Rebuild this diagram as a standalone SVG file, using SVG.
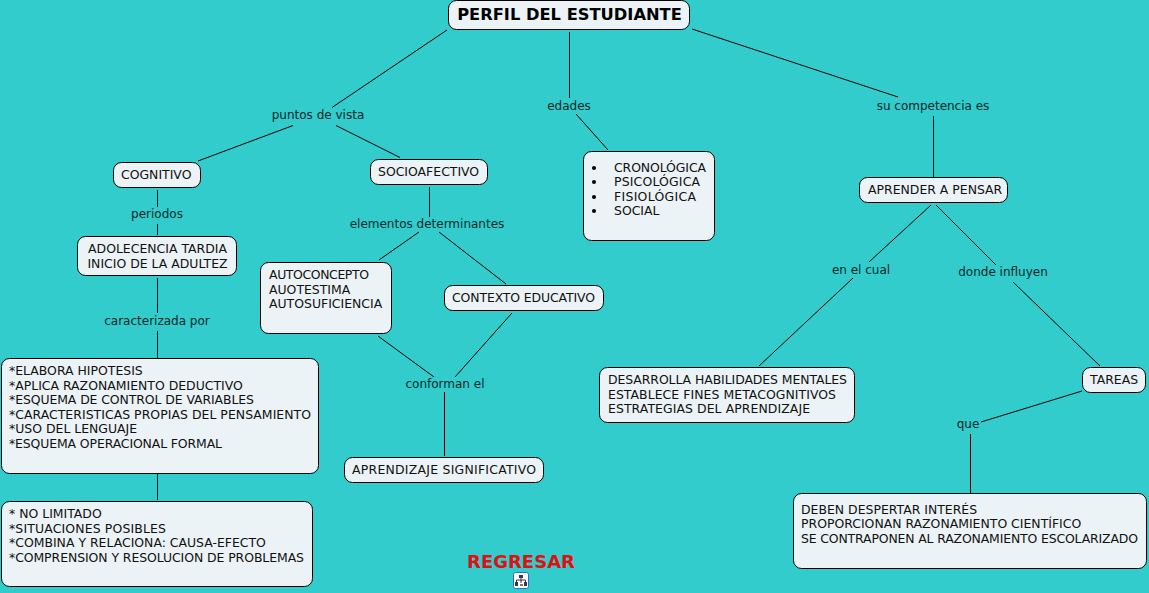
<svg xmlns="http://www.w3.org/2000/svg" width="1149" height="593" viewBox="0 0 1149 593">
<style>
.n{fill:#ecf3f6;stroke:#000;stroke-width:1}
text{font-family:"DejaVu Sans",Verdana,sans-serif;font-size:12.45px;fill:#111}
text.l{fill:#002a2a;text-anchor:middle;font-size:12px}
#conn line{stroke:#000;stroke-width:1}
</style>
<rect width="1149" height="593" fill="#33cccc"/>
<g id="conn">
<line x1="447" y1="30" x2="332" y2="107.500"/>
<line x1="293" y1="125.500" x2="198" y2="161"/>
<line x1="336" y1="125.500" x2="400" y2="157.500"/>
<line x1="569.500" y1="32" x2="569.500" y2="98"/>
<line x1="576" y1="114" x2="608" y2="150"/>
<line x1="692" y1="29" x2="898" y2="97"/>
<line x1="933.500" y1="116" x2="933.500" y2="177"/>
<line x1="157.500" y1="190" x2="157.500" y2="207"/>
<line x1="157.500" y1="224" x2="157.500" y2="235"/>
<line x1="157.500" y1="278" x2="157.500" y2="313"/>
<line x1="157.500" y1="331" x2="157.500" y2="358"/>
<line x1="157.500" y1="474" x2="157.500" y2="500"/>
<line x1="429.500" y1="187" x2="429.500" y2="217"/>
<line x1="419" y1="232" x2="379" y2="260"/>
<line x1="439" y1="232" x2="506" y2="284"/>
<line x1="378" y1="336" x2="434" y2="377"/>
<line x1="512" y1="313" x2="455" y2="377"/>
<line x1="444.500" y1="392" x2="444.500" y2="456"/>
<line x1="931" y1="205" x2="869" y2="262"/>
<line x1="936" y1="205" x2="996" y2="265"/>
<line x1="853" y1="278" x2="759" y2="366"/>
<line x1="1013" y1="282" x2="1100" y2="366"/>
<line x1="1082" y1="391" x2="981" y2="422"/>
<line x1="970.500" y1="434" x2="970.500" y2="493"/>
</g>
<g id="n-perfil"><rect class="n" x="448.500" y="0.500" width="241" height="29" rx="8"/><text x="569.500" y="20" text-anchor="middle" style="font-size:16.300px;font-weight:700;fill:#000">PERFIL DEL ESTUDIANTE</text></g>
<g id="n-puntos"><text class="l" x="318" y="119">puntos de vista</text></g>
<g id="n-edades"><text class="l" x="569" y="110">edades</text></g>
<g id="n-competencia"><text class="l" x="933" y="110">su competencia es</text></g>
<g id="n-cognitivo"><rect class="n" x="113.500" y="162.500" width="87" height="25" rx="8"/><text x="121" y="179">COGNITIVO</text></g>
<g id="n-socio"><rect class="n" x="370.500" y="159.500" width="117" height="25" rx="8"/><text x="378" y="176">SOCIOAFECTIVO</text></g>
<g id="n-edadlist"><rect class="n" x="583.500" y="151.500" width="131" height="89" rx="8"/>
<circle cx="594" cy="168" r="2"/><circle cx="594" cy="182" r="2"/><circle cx="594" cy="197" r="2"/><circle cx="594" cy="211" r="2"/>
<text x="614" y="172" textLength="92">CRONOLÓGICA</text><text x="614" y="186" textLength="86">PSICOLÓGICA</text><text x="614" y="201" textLength="82">FISIOLÓGICA</text><text x="614" y="215">SOCIAL</text></g>
<g id="n-aprender"><rect class="n" x="859.500" y="177.500" width="148" height="25" rx="8"/><text x="868" y="194">APRENDER A PENSAR</text></g>
<g id="n-periodos"><text class="l" x="157" y="218">periodos</text></g>
<g id="n-adol"><rect class="n" x="77.500" y="236.500" width="159" height="39" rx="8"/><text x="157.500" y="253" text-anchor="middle">ADOLECENCIA TARDIA</text><text x="157.500" y="268" text-anchor="middle">INICIO DE LA ADULTEZ</text></g>
<g id="n-caract"><text class="l" x="157" y="325">caracterizada por</text></g>
<g id="n-elabora"><rect class="n" x="1.500" y="358.500" width="317" height="115" rx="8"/>
<text x="9" y="375">*ELABORA HIPOTESIS</text><text x="9" y="390">*APLICA RAZONAMIENTO DEDUCTIVO</text><text x="9" y="404" textLength="245">*ESQUEMA DE CONTROL DE VARIABLES</text><text x="9" y="419" textLength="302">*CARACTERISTICAS PROPIAS DEL PENSAMIENTO</text><text x="9" y="433">*USO DEL LENGUAJE</text><text x="9" y="448" textLength="213">*ESQUEMA OPERACIONAL FORMAL</text></g>
<g id="n-nolim"><rect class="n" x="1.500" y="501.500" width="311" height="85" rx="8"/>
<text x="9" y="518">* NO LIMITADO</text><text x="9" y="533" textLength="157">*SITUACIONES POSIBLES</text><text x="9" y="547">*COMBINA Y RELACIONA: CAUSA-EFECTO</text><text x="9" y="562" textLength="295">*COMPRENSION Y RESOLUCION DE PROBLEMAS</text></g>
<g id="n-elem"><text class="l" x="427" y="228">elementos determinantes</text></g>
<g id="n-auto"><rect class="n" x="260.500" y="262.500" width="131" height="71" rx="8"/>
<text x="269" y="279" textLength="100">AUTOCONCEPTO</text><text x="269" y="294">AUOTESTIMA</text><text x="269" y="308">AUTOSUFICIENCIA</text></g>
<g id="n-contexto"><rect class="n" x="444.500" y="285.500" width="159" height="25" rx="8"/><text x="452" y="302" textLength="143">CONTEXTO EDUCATIVO</text></g>
<g id="n-conforman"><text class="l" x="445" y="388">conforman el</text></g>
<g id="n-aprend"><rect class="n" x="344.500" y="457.500" width="199" height="25" rx="8"/><text x="352" y="474" textLength="184">APRENDIZAJE SIGNIFICATIVO</text></g>
<g id="n-encual"><text class="l" x="861" y="274">en el cual</text></g>
<g id="n-donde"><text class="l" x="1003" y="276">donde influyen</text></g>
<g id="n-desarrolla"><rect class="n" x="599.500" y="367.500" width="255" height="55" rx="8"/>
<text x="608" y="384" textLength="239">DESARROLLA HABILIDADES MENTALES</text><text x="608" y="399" textLength="228">ESTABLECE FINES METACOGNITIVOS</text><text x="608" y="413" textLength="202">ESTRATEGIAS DEL APRENDIZAJE</text></g>
<g id="n-tareas"><rect class="n" x="1082.500" y="367.500" width="63" height="25" rx="8"/><text x="1090" y="384">TAREAS</text></g>
<g id="n-que"><text class="l" x="968" y="428">que</text></g>
<g id="n-deben"><rect class="n" x="793.500" y="493.500" width="353" height="75" rx="8"/>
<text x="801" y="514">DEBEN DESPERTAR INTERÉS</text><text x="801" y="528">PROPORCIONAN RAZONAMIENTO CIENTÍFICO</text><text x="801" y="543" textLength="337">SE CONTRAPONEN AL RAZONAMIENTO ESCOLARIZADO</text></g>
<g id="regresar"><text x="521" y="568" text-anchor="middle" style="font-size:18px;font-weight:700;fill:#e01010">REGRESAR</text></g>
<g id="icon"><rect x="513.500" y="572.500" width="15" height="16" rx="2" fill="#fff" stroke="#2a6fd0"/>
<path d="M521 577v6M516.500 582v-2h9v2" fill="none" stroke="#334"/>
<rect x="519" y="575" width="4" height="3" fill="#336"/><rect x="515" y="582" width="3" height="4" fill="#336"/><rect x="524" y="582" width="3" height="4" fill="#336"/><rect x="520" y="584" width="3" height="2" fill="#a65"/></g>
</svg>
